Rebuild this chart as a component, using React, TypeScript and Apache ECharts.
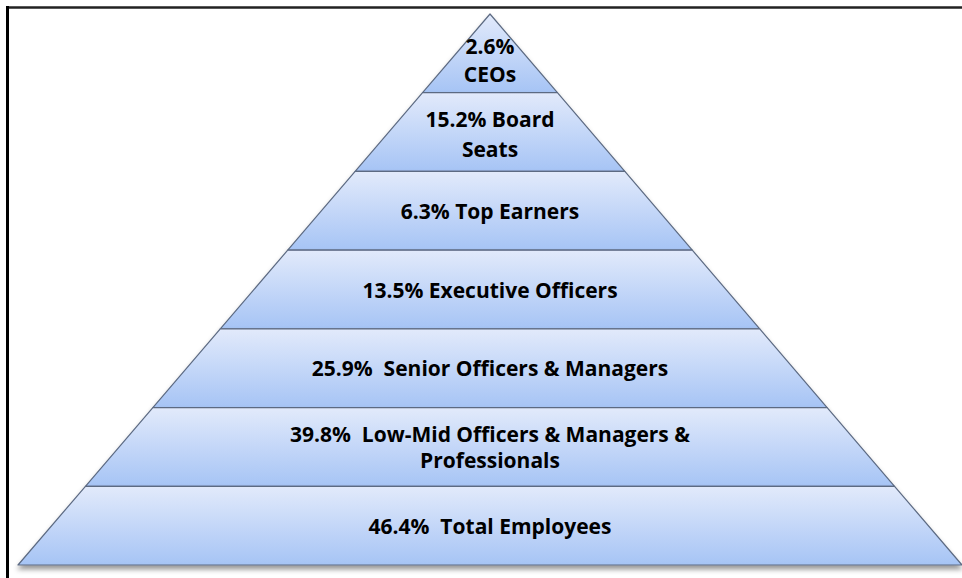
import React, { useEffect, useRef } from "react";
import * as echarts from "echarts";

// Pyramid tiers, top to bottom
const tierNames = [
  "CEOs",
  "Board Seats",
  "Top Earners",
  "Executive Officers",
  "Senior Officers & Managers",
  "Low-Mid Officers & Managers & Professionals",
  "Total Employees",
];
// Percentages shown on each tier
const tierShares = [2.6, 15.2, 6.3, 13.5, 25.9, 39.8, 46.4];
// Label text as printed in the reference (line breaks as shown)
const tierLabels = [
  "{gap| }\n{a|2.6%}\n{a|CEOs}",
  "{g2| }\n{b|15.2% Board}\n{b|Seats}",
  "6.3% Top Earners",
  "13.5% Executive Officers",
  "25.9%  Senior Officers & Managers",
  "39.8%  Low-Mid Officers & Managers &\nProfessionals",
  "46.4%  Total Employees",
];
// Pyramid level (1 = apex tier) which drives the funnel widths
const tierLevels = [1, 2, 3, 4, 5, 6, 7];

export default function App() {
  const ref = useRef<HTMLDivElement>(null);
  useEffect(() => {
    if (!ref.current) return;
    const chart = echarts.init(ref.current, undefined, { renderer: "svg" });
    const data = tierNames.map((name, i) => ({
      name,
      value: tierLevels[i],
      share: tierShares[i],
    }));
    const font = {
      color: "#000",
      fontFamily: "Open Sans",
      fontWeight: "bold" as const,
      fontSize: 21,
    };
    chart.setOption({
      animation: false,
      backgroundColor: "#ffffff",
      graphic: [
        {
          type: "line",
          shape: { x1: 6, y1: 7.5, x2: 962, y2: 7.5 },
          style: { stroke: "#222", lineWidth: 2.5 },
          z: 10,
        },
        {
          type: "line",
          shape: { x1: 7.5, y1: 6, x2: 7.5, y2: 578 },
          style: { stroke: "#000", lineWidth: 3 },
          z: 10,
        },
      ],
      series: [
        {
          type: "funnel",
          left: 18,
          top: 14,
          width: 944,
          height: 551,
          min: 0,
          max: 7,
          minSize: "0%",
          maxSize: "100%",
          sort: "ascending",
          gap: 0,
          label: {
            show: true,
            position: "inside",
            ...font,
            lineHeight: 26,
            align: "center",
            formatter: (p: any) => tierLabels[p.dataIndex],
            rich: {
              gap: { ...font, fontSize: 8, lineHeight: 13 },
              g2: { ...font, fontSize: 4, lineHeight: 4 },
              a: { ...font, lineHeight: 28 },
              b: { ...font, lineHeight: 30 },
            },
          },
          labelLine: { show: false },
          itemStyle: {
            color: {
              type: "linear",
              x: 0,
              y: 0,
              x2: 0,
              y2: 1,
              colorStops: [
                { offset: 0, color: "#e2eafb" },
                { offset: 1, color: "#a6c4f5" },
              ],
            },
            borderColor: "#5c6a82",
            borderWidth: 1.2,
            shadowColor: "rgba(0,0,0,0.4)",
            shadowBlur: 5,
            shadowOffsetY: 4,
          },
          emphasis: { disabled: true },
          data,
        },
      ],
    });
    return () => chart.dispose();
  }, []);
  return (
    <div
      ref={ref}
      style={{ position: "fixed", left: 0, top: 0, width: 962, height: 578 }}
    />
  );
}
